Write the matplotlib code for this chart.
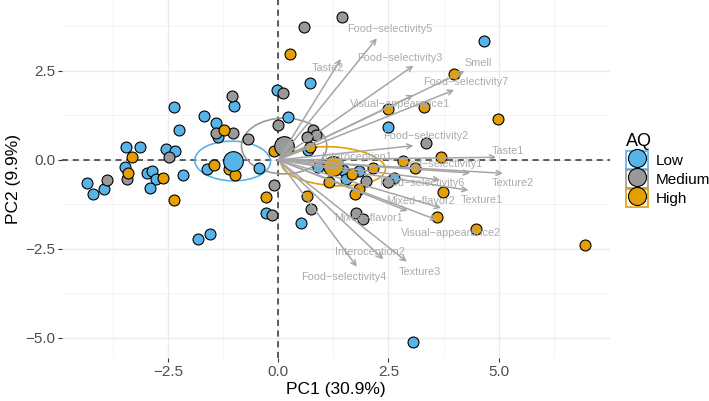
import numpy as np
import matplotlib
matplotlib.use("Agg")
import matplotlib.pyplot as plt
from matplotlib.patches import Ellipse, Patch
from matplotlib.lines import Line2D
from matplotlib.legend_handler import HandlerTuple

plt.rcParams['font.family'] = ['Liberation Sans', 'DejaVu Sans']

# individuals (PC1, PC2) by AQ group
low_x = [-4.335, -4.203, -3.950, -3.444, -3.134, -3.460, -2.973, -2.855, -2.765, -2.901,
         -2.531, -2.327, -2.148, -2.363, -2.250, -1.817, -1.545, -1.688, -1.416, -1.353,
         -1.008, -1.609, -0.437, -0.276, -0.034, 0.227, 0.668, 0.913, 1.466, 1.840,
         1.541, 0.510, 2.488, 2.633, 3.066, 4.661, 0.718]
low_y = [-0.646, -0.955, -0.815, 0.374, 0.351, -0.205, -0.365, -0.309, -0.534, -0.787,
         0.303, 0.253, -0.427, 1.497, 0.834, -2.225, -2.079, 1.222, 1.048, 0.638,
         1.517, -0.261, -0.211, -1.489, 1.952, 1.199, 0.281, -0.188, -0.281, -0.323,
         -0.548, -1.756, 0.927, -0.492, -5.104, 3.351, 2.171]

med_x = [-3.868, -3.417, -2.481, -1.036, -1.398, -1.024, -0.673, -0.011, 0.102, -0.091,
         -0.131, 0.589, 1.443, 0.793, 0.854, 0.646, 0.743, 1.990, 2.493, 3.354,
         1.756, 1.919]
med_y = [-0.567, -0.534, 0.070, 1.798, 0.772, 0.767, 0.590, 0.989, 1.882, -0.702,
         -1.545, 3.728, 4.008, 0.829, 0.688, 0.632, -1.376, -0.604, -0.626, 0.478,
         -1.483, -1.666]

high_x = [-3.320, -3.406, -2.601, -2.352, -1.235, -1.455, -1.104, -0.986, -0.279, -0.095,
          0.272, 0.725, 0.650, 1.144, 1.666, 1.824, 1.752, 2.153, 2.839, 3.104,
          3.687, 3.732, 3.596, 4.487, 3.995, 3.315, 2.499, 4.974, 6.957]
high_y = [0.079, -0.365, -0.511, -1.115, 0.843, -0.154, -0.244, -0.421, -1.053, 0.239,
          2.978, 0.351, -1.006, -0.618, -0.393, -0.820, -0.955, -0.211, -0.028, -0.233,
          0.098, -0.890, -1.593, -1.947, 2.416, 1.497, 1.433, 1.138, -2.388]

groups = ['Low', 'Medium', 'High']
group_colors = ['#56B4E9', '#999999', '#E69F00']

# group means and confidence ellipses (width, height, angle)
mean_x = [-1.031, 0.136, 1.253]
mean_y = [-0.028, 0.393, -0.177]
ell_w = [1.716, 1.933, 2.363]
ell_h = [1.115, 1.565, 1.087]
ell_angle = [-2, 0, -5]

# variables: arrow tips and label positions
var_names = ['Food\u2212selectivity5', 'Taste2', 'Food\u2212selectivity3', 'Smell',
             'Food\u2212selectivity7', 'Visual\u2212appearance1', 'Food\u2212selectivity2',
             'Taste1', 'Food\u2212selectivity1', 'Texture2', 'Interoception1',
             'Food\u2212selectivity6', 'Texture1', 'Mixed\u2212flavor2',
             'Visual\u2212appearance2', 'Mixed\u2212flavor1', 'Interoception2',
             'Texture3', 'Food\u2212selectivity4']
var_x = [2.237, 1.421, 3.066, 4.222, 3.988, 3.066, 3.066, 4.940, 4.351, 5.092,
         1.518, 3.671, 4.312, 3.694, 3.603, 2.934, 2.386, 2.916, 1.783]
var_y = [3.419, 2.837, 2.649, 2.500, 1.966, 1.826, 0.402, 0.076, -0.365, -0.374,
         -0.056, -0.562, -0.851, -1.348, -1.685, -1.433, -2.789, -2.857, -2.997]
lab_x = [2.538, 1.117, 2.749, 4.539, 4.253, 2.765, 3.347, 5.212, 3.671, 5.325,
         1.783, 3.256, 4.616, 3.218, 3.913, 2.046, 2.085, 3.218, 1.480]
lab_y = [3.671, 2.593, 2.874, 2.716, 2.183, 1.573, 0.660, 0.253, -0.121, -0.646,
         0.093, -0.654, -1.124, -1.143, -2.042, -1.638, -2.576, -3.138, -3.278]

fig = plt.figure(figsize=(7.09, 4.01), dpi=100)
ax = fig.add_axes([62/709, 1 - 358/401, 548/709, 358/401])

ax.set_xlim(-4.898, 7.52)
ax.set_ylim(-5.562, 4.494)

# grid like theme_minimal
ax.set_xticks([-2.5, 0, 2.5, 5.0])
ax.set_yticks([-5.0, -2.5, 0, 2.5])
ax.set_xticks([-3.75, -1.25, 1.25, 3.75, 6.25], minor=True)
ax.set_yticks([-3.75, -1.25, 1.25, 3.75], minor=True)
ax.grid(True, which='major', color='#EBEBEB', lw=1.0)
ax.grid(True, which='minor', color='#F2F2F2', lw=0.6)
ax.set_axisbelow(True)
for s in ax.spines.values():
    s.set_visible(False)
ax.tick_params(which='major', length=3, color='#333333', labelsize=11, labelcolor='#4D4D4D', pad=2)
ax.tick_params(which='minor', length=0)
ax.xaxis.set_major_formatter(matplotlib.ticker.FuncFormatter(lambda v, p: ('%.1f' % v).replace('-', '\u2212')))
ax.yaxis.set_major_formatter(matplotlib.ticker.FuncFormatter(lambda v, p: ('%.1f' % v).replace('-', '\u2212')))

ax.axhline(0, color='#333333', lw=1.1, ls=(0, (4, 3)), zorder=1)
ax.axvline(0, color='#333333', lw=1.1, ls=(0, (4, 3)), zorder=1)

# points
xs = [low_x, med_x, high_x]
ys = [low_y, med_y, high_y]
for i in range(3):
    ax.scatter(xs[i], ys[i], s=62, c=group_colors[i], edgecolors='black', linewidths=0.8, zorder=3)

# ellipses and group means
for i in range(3):
    e = Ellipse((mean_x[i], mean_y[i]), ell_w[i], ell_h[i], angle=ell_angle[i],
                fill=False, edgecolor=group_colors[i], lw=1.2, zorder=2)
    ax.add_patch(e)
    ax.scatter(mean_x[i], mean_y[i], s=200, c=group_colors[i], edgecolors='black', linewidths=0.8, zorder=4)

# variable arrows
for i in range(len(var_names)):
    ax.annotate('', xy=(var_x[i], var_y[i]), xytext=(0, 0),
                arrowprops=dict(arrowstyle='->', color='#A6A6A6', lw=1.1, shrinkA=0, shrinkB=0,
                                mutation_scale=9), zorder=5)
    ax.text(lab_x[i], lab_y[i], var_names[i], color='#ABABAB', fontsize=7.8,
            ha='center', va='center', zorder=5)

ax.set_xlabel('PC1 (30.9%)', fontsize=12.5, labelpad=2)
ax.set_ylabel('PC2 (9.9%)', fontsize=12.5, labelpad=3)

# legend
handles = []
for i in range(3):
    box = Patch(facecolor='white', edgecolor=group_colors[i], lw=1.2)
    dot = Line2D([], [], marker='o', ls='', markersize=13, markerfacecolor=group_colors[i],
                 markeredgecolor='black', markeredgewidth=0.8)
    handles.append((box, dot))
leg = fig.legend(handles, groups, title='AQ', loc='upper left',
                 bbox_to_anchor=(626/709, 1 - 133/401), frameon=False,
                 handler_map={tuple: HandlerTuple(ndivide=1, pad=0)},
                 fontsize=11, title_fontsize=13, handlelength=1.45, handleheight=1.45,
                 labelspacing=0.05, handletextpad=0.5, borderpad=0, borderaxespad=0,
                 alignment='left')

fig.savefig('out.png', dpi=100)
